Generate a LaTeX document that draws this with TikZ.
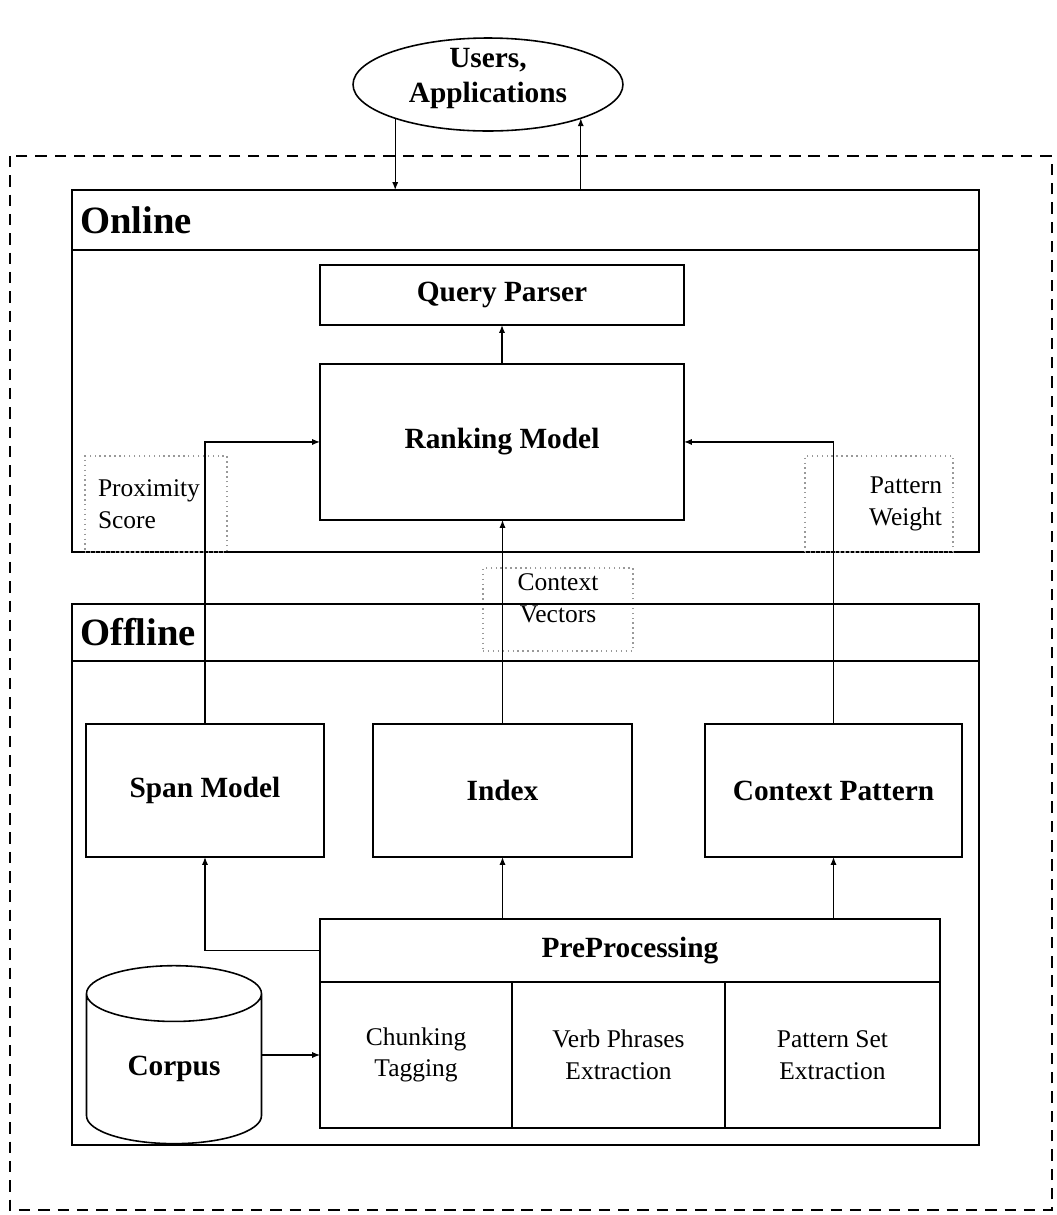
\documentclass[tikz,border=0pt]{standalone}
\usepackage{fontspec}
\setmainfont{Liberation Serif}
\usetikzlibrary{positioning,shapes.geometric,arrows.meta}

\begin{document}
\begin{tikzpicture}[x=0.02cm, y=-0.02cm,
    box/.style={draw=black, line width=0.9pt, inner sep=0pt, outer sep=0pt, align=center},
    bigtext/.style={font=\fontsize{16.7}{19.5}\selectfont\bfseries},
    smalltext/.style={font=\fontsize{14.5}{18}\selectfont},
    headbar/.style={box, minimum width=18.14cm, text width=17.82cm, inner xsep=0.16cm, align=left, font=\fontsize{22}{24}\selectfont\bfseries},
    note/.style={draw=gray!80, dotted, line width=0.8pt, inner sep=0pt, smalltext},
    cell/.style={box, smalltext, minimum height=2.92cm, anchor=north west},
    link/.style={line width=0.7pt, -{Latex[length=4.5pt,width=3.5pt]}}]

    \useasboundingbox (0,0) rectangle (1056,1215);

    % system border
    \draw[line width=1.4pt, dash pattern=on 6.5pt off 4.5pt] (10,156) rectangle (1052,1210);

    % Users
    \node[box, ellipse, minimum width=5.4cm, minimum height=1.86cm,
          label={[bigtext, align=center, yshift=0.12cm]center:{Users,\\Applications}}] (users) at (488,84.5) {};

    % Online part
    \node[headbar, minimum height=1.2cm] (onhead) at (525.5,220) {Online};
    \node[box, minimum width=18.14cm, minimum height=6.04cm, below=0pt of onhead] (onbody) {};
    \node[box, bigtext, minimum width=7.28cm, minimum height=1.2cm] (query) at (502,295) {Query Parser};
    \node[box, bigtext, minimum width=7.28cm, minimum height=3.12cm, below=0.78cm of query] (ranking) {Ranking Model};
    \node[note, minimum width=2.84cm, minimum height=1.92cm, text width=2.32cm, align=left] (proxnote) at (156,504) {Proximity\\Score};
    \node[note, minimum width=2.96cm, minimum height=1.92cm, text width=2.52cm, align=right] (weightnote) at (879,504) {Pattern\\Weight};
    \node[note, minimum width=3.0cm, minimum height=1.66cm, text depth=13pt, align=center] (vecnote) at (558,609.5) {Context\\Vectors};

    % Offline part
    \node[headbar, minimum height=1.14cm] (offhead) at (525.5,632.5) {Offline};
    \node[box, minimum width=18.14cm, minimum height=9.68cm, below=0pt of offhead] (offbody) {};
    \node[box, bigtext, minimum width=4.76cm, minimum height=2.66cm] (span) at (205,790.5) {Span Model};
    \node[box, bigtext, minimum width=5.18cm, minimum height=2.66cm] (index) at (502.5,790.5) {Index};
    \node[box, bigtext, minimum width=5.14cm, minimum height=2.66cm] (ctxpat) at (833.5,790.5) {Context Pattern};

    % PreProcessing table
    \node[box, bigtext, minimum width=12.4cm, minimum height=1.26cm] (prep) at (630,950.5) {PreProcessing};
    \node[cell, minimum width=3.84cm] (chunk) at (prep.south west) {Chunking\\Tagging};
    \node[cell, minimum width=4.26cm, right=0pt of chunk] (verb) {Verb Phrases\\Extraction};
    \node[cell, minimum width=4.3cm, right=0pt of verb] (patset) {Pattern Set\\Extraction};

    % Corpus
    \node[box, cylinder, shape border rotate=90, aspect=0.6, bigtext, minimum width=3.5cm, minimum height=3.56cm] (corpus) at (174,1069) {Corpus};

    % arrows
    \draw[link] (users.200) -- (users.200 |- onhead.north);
    \draw[link] (users.340 |- onhead.north) -- (users.340);
    \draw[link] (ranking.north) -- (query.south);
    \draw[link] (span.north) |- (ranking.west);
    \draw[link] (index.north) -- (index.north |- ranking.south);
    \draw[link] (ctxpat.north) |- (ranking.east);
    \draw[link] (prep.west) -| (span.south);
    \draw[link] (index.south |- prep.north) -- (index.south);
    \draw[link] (ctxpat.south |- prep.north) -- (ctxpat.south);
    \draw[link] (corpus.east |- chunk.west) -- (chunk.west);

\end{tikzpicture}
\end{document}
